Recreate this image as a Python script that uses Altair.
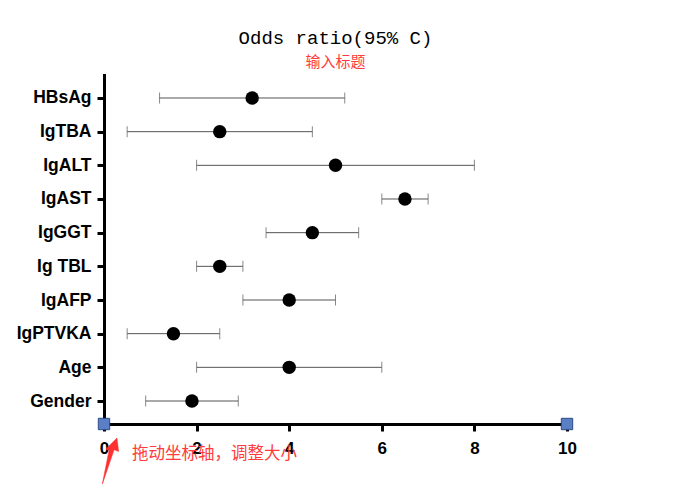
import altair as alt
import pandas as pd

labels = ["HBsAg", "IgTBA", "IgALT", "IgAST", "IgGGT", "Ig TBL", "IgAFP", "IgPTVKA", "Age", "Gender"]
odds = [3.2, 2.5, 5.0, 6.5, 4.5, 2.5, 4.0, 1.5, 4.0, 1.9]
lower = [1.2, 0.5, 2.0, 6.0, 3.5, 2.0, 3.0, 0.5, 2.0, 0.9]
upper = [5.2, 4.5, 8.0, 7.0, 5.5, 3.0, 5.0, 2.5, 6.0, 2.9]
x_ticks = [0, 2, 4, 6, 8, 10]
handle_x = [0, 10]

df = pd.DataFrame({"label": labels, "or": odds, "lo": lower, "hi": upper})
handles = pd.DataFrame({"x": handle_x})

W, H = 463, 349
xscale = alt.Scale(domain=[0, 10], nice=False, zero=False)
yscale = alt.Scale(type="point", padding=0.683)

xaxis = alt.Axis(values=x_ticks, grid=False, domainWidth=3, domainColor="black",
                 tickWidth=3, tickColor="black", tickSize=7, labelFont="Liberation Sans",
                 labelFontWeight="bold", labelFontSize=17, labelColor="black",
                 labelPadding=9, title=None, labelFlush=False)
yaxis = alt.Axis(grid=False, domainWidth=3, domainColor="black", tickWidth=3,
                 tickColor="black", tickSize=7, labelFont="Liberation Sans",
                 labelFontWeight="bold", labelFontSize=17.5, labelColor="black",
                 labelPadding=6, title=None)

base = alt.Chart(df).encode(
    y=alt.Y("label:N", sort=labels, scale=yscale, axis=yaxis)
)

rule = base.mark_rule(color="#555555", strokeWidth=1).encode(
    x=alt.X("lo:Q", scale=xscale, axis=xaxis), x2="hi:Q"
)
cap_lo = base.mark_tick(color="#555555", thickness=1, size=11, orient="vertical").encode(
    x=alt.X("lo:Q", scale=xscale)
)
cap_hi = base.mark_tick(color="#555555", thickness=1, size=11, orient="vertical").encode(
    x=alt.X("hi:Q", scale=xscale)
)
pts = base.mark_circle(color="black", opacity=1, size=180).encode(
    x=alt.X("or:Q", scale=xscale)
)

squares = alt.Chart(handles).mark_square(
    fill="#5b7fc4", stroke="#2c4a8a", strokeWidth=1, opacity=1, size=130
).encode(x=alt.X("x:Q", scale=xscale), y=alt.value(H))

note = alt.Chart(pd.DataFrame({"t": ["拖动坐标轴，调整大小"]})).mark_text(
    color="#ff3b3b", font="Noto Sans CJK SC", fontSize=16.5, align="left", baseline="middle"
).encode(text="t:N", x=alt.value(28), y=alt.value(379))

arrow_path = "M 0.29 -0.96 L 0.36 -0.4 L 0.17 -0.47 L -0.33 1 L -0.04 -0.44 L -0.17 -0.5 Z"
arrow = alt.Chart(pd.DataFrame({"a": [1]})).mark_point(
    shape=arrow_path, filled=True, fill="#ff3030", stroke="#ff3030", strokeWidth=0.5,
    opacity=1, size=2304
).encode(x=alt.value(6), y=alt.value(386))

chart = alt.layer(rule, cap_lo, cap_hi, pts, squares, note, arrow).properties(
    width=W, height=H,
    title=alt.TitleParams(
        text="Odds ratio(95% C)", subtitle="输入标题", anchor="middle",
        font="Liberation Mono", fontSize=19, fontWeight="normal", color="black",
        subtitleFont="Noto Sans CJK SC", subtitleFontSize=15, subtitleColor="#ff3b3b",
        subtitlePadding=7, offset=5
    ),
    autosize=alt.AutoSizeParams(type="none"),
    padding={"left": 96, "top": 67, "right": 100, "bottom": 60},
).configure_view(stroke=None).configure_axis(domainCap="square")

chart.save("out.html", embed_options={"renderer": "svg", "actions": False})
